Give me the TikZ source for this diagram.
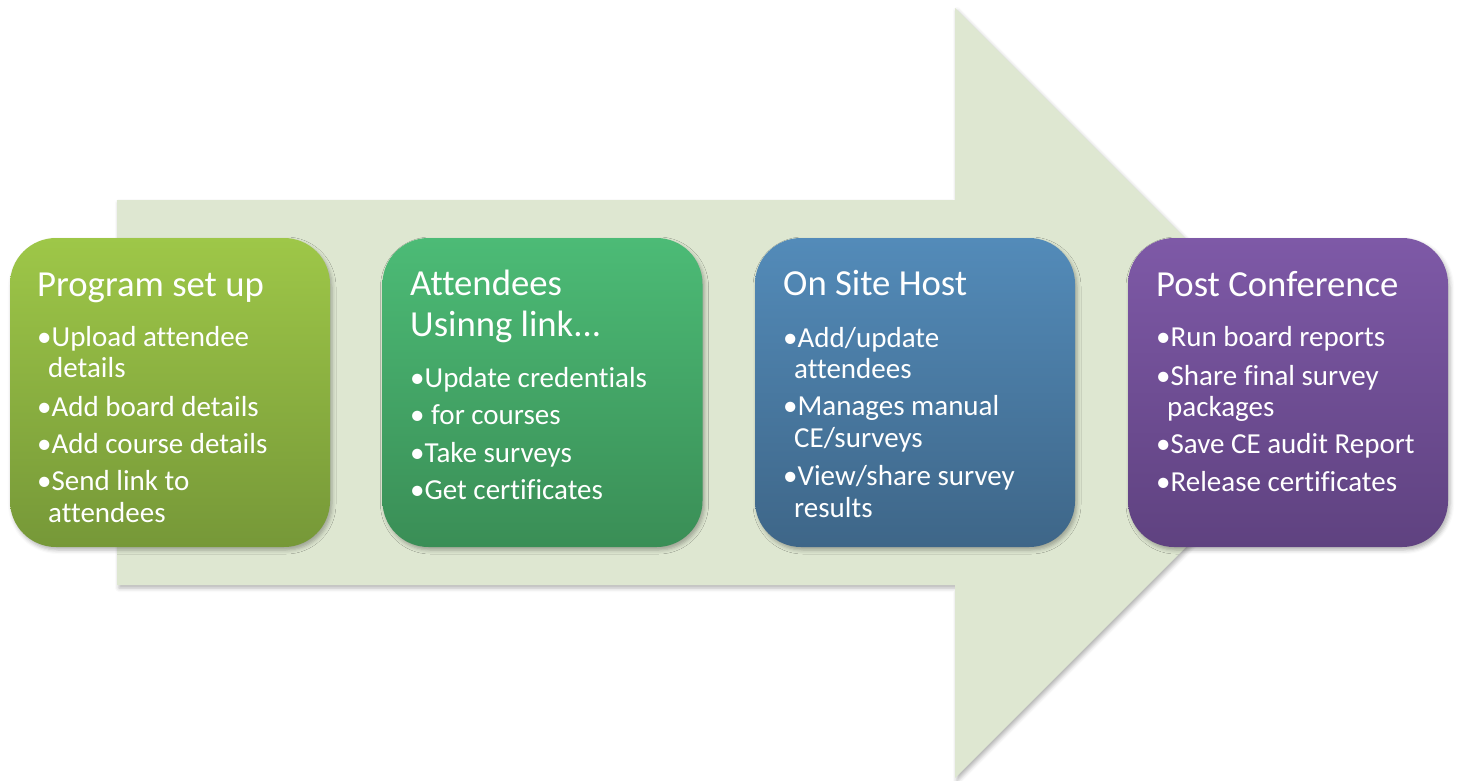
\documentclass[tikz,border=0pt]{standalone}
\usepackage{fontspec}
\setmainfont[Ligatures={NoCommon}]{Carlito}
\usetikzlibrary{shadows.blur}

\definecolor{arrowfill}{RGB}{222,231,209}
\definecolor{gAtop}{RGB}{158,199,72}
\definecolor{gAbot}{RGB}{118,152,56}
\definecolor{gBtop}{RGB}{76,187,118}
\definecolor{gBbot}{RGB}{58,142,86}
\definecolor{blTop}{RGB}{83,139,185}
\definecolor{blBot}{RGB}{62,102,136}
\definecolor{puTop}{RGB}{126,89,167}
\definecolor{puBot}{RGB}{95,66,128}

\tikzset{
  softshadow/.style={blur shadow={shadow xshift=2pt, shadow yshift=-3pt,
      shadow blur radius=4pt, shadow opacity=30}},
  stagebox/.style={softshadow, rounded corners=46pt, minimum width=320pt,
      minimum height=309pt, inner sep=0pt, draw=none},
  title/.style={anchor=base west, inner sep=0pt, text=white,
      font=\fontsize{36.7}{44}\selectfont},
  item/.style={anchor=base west, inner sep=0pt, text=white,
      font=\fontsize{29}{35}\selectfont},
}

\begin{document}
\begin{tikzpicture}[x=1pt, y=-1pt]
  \useasboundingbox (0,0) rectangle (1458,780);

  % large background arrow
  \fill[arrowfill, softshadow] (117,200) -- (955,200) -- (955,8) -- (1340,393)
      -- (955,778) -- (955,585) -- (117,585) -- cycle;

  % stage boxes
  \node[stagebox, top color=gAtop, bottom color=gAbot] (s1) at (170,392.5) {};
  \node[stagebox, top color=gBtop, bottom color=gBbot] (s2) at (542.5,392.5) {};
  \node[stagebox, top color=blTop, bottom color=blBot] (s3) at (915,392.5) {};
  \node[stagebox, top color=puTop, bottom color=puBot] (s4) at (1288,392.5) {};

  % Program set up
  \node[title] (t1) at (37,296) {Program set up};
  \node[item] (a1) at (37,346) {•Upload attendee};
  \node[item] (a2) at (48,377) {details};
  \node[item] (a3) at (37,416) {•Add board details};
  \node[item] (a4) at (37,453) {•Add course details};
  \node[item] (a5) at (37,490) {•Send link to};
  \node[item] (a6) at (48,522) {attendees};

  % Attendees
  \node[title] (t2a) at (410,295) {Attendees};
  \node[title] (t2b) at (410,336) {Usinng link...};
  \node[item] (b1) at (410,387) {•Update credentials};
  \node[item] (b2) at (410,424) {• for courses};
  \node[item] (b3) at (410,462) {•Take surveys};
  \node[item] (b4) at (410,499) {•Get certificates};

  % On Site Host
  \node[title] (t3) at (783,295) {On Site Host};
  \node[item] (c1) at (783,347) {•Add/update};
  \node[item] (c2) at (794,378) {attendees};
  \node[item] (c3) at (783,415) {•Manages manual};
  \node[item] (c4) at (794,447) {CE/surveys};
  \node[item] (c5) at (783,485) {•View/share survey};
  \node[item] (c6) at (794,517) {results};

  % Post Conference
  \node[title] (t4) at (1156,296) {Post Conference};
  \node[item] (d1) at (1156,346) {•Run board reports};
  \node[item] (d2) at (1156,385) {•Share final survey};
  \node[item] (d3) at (1167,416) {packages};
  \node[item] (d4) at (1156,453) {•Save CE audit Report};
  \node[item] (d5) at (1156,491) {•Release certificates};
\end{tikzpicture}
\end{document}
